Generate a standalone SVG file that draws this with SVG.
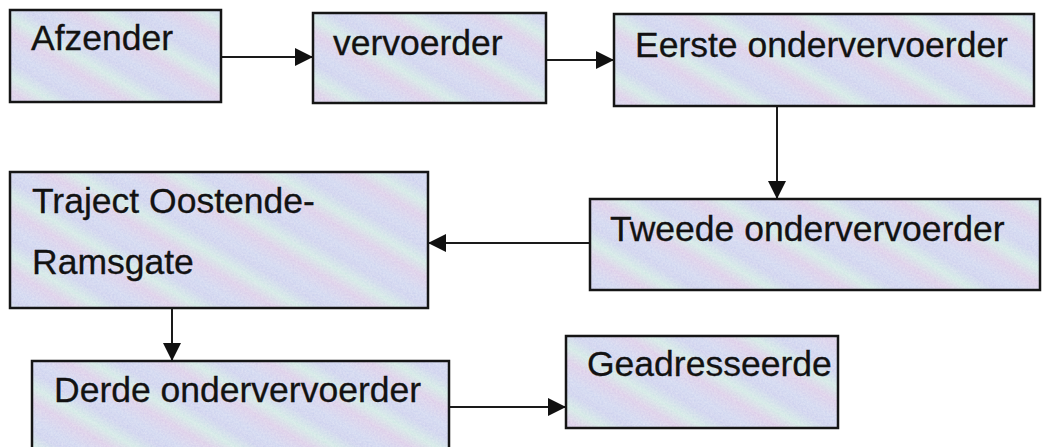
<svg xmlns="http://www.w3.org/2000/svg" width="1046" height="447" viewBox="0 0 1046 447">
<defs>
<linearGradient id="tex" gradientUnits="userSpaceOnUse" x1="0" y1="44" x2="26" y2="0" spreadMethod="repeat">
<stop offset="0" stop-color="#cbd2ee"/>
<stop offset="0.3" stop-color="#d8c8e6"/>
<stop offset="0.55" stop-color="#cde6e2"/>
<stop offset="0.8" stop-color="#c8ccec"/>
<stop offset="1" stop-color="#cbd2ee"/>
</linearGradient>
<filter id="grain" x="0" y="0" width="1" height="1">
<feTurbulence type="fractalNoise" baseFrequency="0.55" numOctaves="2" seed="3" result="n"/>
<feColorMatrix in="n" type="matrix" values="0 0 0 0 1  0 0 0 0 1  0 0 0 0 1  0 0 0 0.4 0" result="w"/>
<feComposite in="w" in2="SourceGraphic" operator="atop"/>
</filter>
<marker id="arr" markerUnits="userSpaceOnUse" markerWidth="18" markerHeight="18" refX="18" refY="9" orient="auto">
<path d="M0,0 L18,9 L0,18 Z" fill="#111"/>
</marker>
</defs>
<style>
.fill{fill:url(#tex);stroke:none;filter:url(#grain)}
.box{fill:none;stroke:#151515;stroke-width:2.5}
.lbl{font-family:"Liberation Sans",Arial,sans-serif;font-size:35.5px;fill:#121212;stroke:#121212;stroke-width:0.3}
.con{stroke:#1a1a1a;stroke-width:2;fill:none;marker-end:url(#arr)}
</style>
<rect width="1046" height="447" fill="#ffffff"/>
<g id="connectors">
<line class="con" x1="221" y1="57" x2="313" y2="57"/>
<line class="con" x1="546" y1="60" x2="614" y2="60"/>
<line class="con" x1="777" y1="106" x2="777" y2="199"/>
<line class="con" x1="590" y1="243" x2="428" y2="243"/>
<line class="con" x1="172" y1="308" x2="172" y2="361"/>
<line class="con" x1="449" y1="407" x2="566" y2="407"/>
</g>
<g id="afzender">
<rect class="fill" x="10" y="10" width="211" height="92"/>
<rect class="box" x="10" y="10" width="211" height="92"/>
<text class="lbl" x="31" y="50">Afzender</text>
</g>
<g id="vervoerder">
<rect class="fill" x="313" y="13" width="233" height="90"/>
<rect class="box" x="313" y="13" width="233" height="90"/>
<text class="lbl" x="333" y="55">vervoerder</text>
</g>
<g id="eerste">
<rect class="fill" x="614" y="14" width="420" height="92"/>
<rect class="box" x="614" y="14" width="420" height="92"/>
<text class="lbl" x="635" y="57">Eerste ondervervoerder</text>
</g>
<g id="tweede">
<rect class="fill" x="590" y="199" width="450" height="91"/>
<rect class="box" x="590" y="199" width="450" height="91"/>
<text class="lbl" x="610" y="241">Tweede ondervervoerder</text>
</g>
<g id="traject">
<rect class="fill" x="10" y="172" width="418" height="136"/>
<rect class="box" x="10" y="172" width="418" height="136"/>
<text class="lbl" x="32" y="213">Traject Oostende-</text>
<text class="lbl" x="32" y="274">Ramsgate</text>
</g>
<g id="derde">
<rect class="fill" x="32" y="361" width="417" height="100"/>
<rect class="box" x="32" y="361" width="417" height="100"/>
<text class="lbl" x="54" y="402">Derde ondervervoerder</text>
</g>
<g id="geadresseerde">
<rect class="fill" x="566" y="336" width="272" height="92"/>
<rect class="box" x="566" y="336" width="272" height="92"/>
<text class="lbl" x="587" y="376">Geadresseerde</text>
</g>
</svg>
